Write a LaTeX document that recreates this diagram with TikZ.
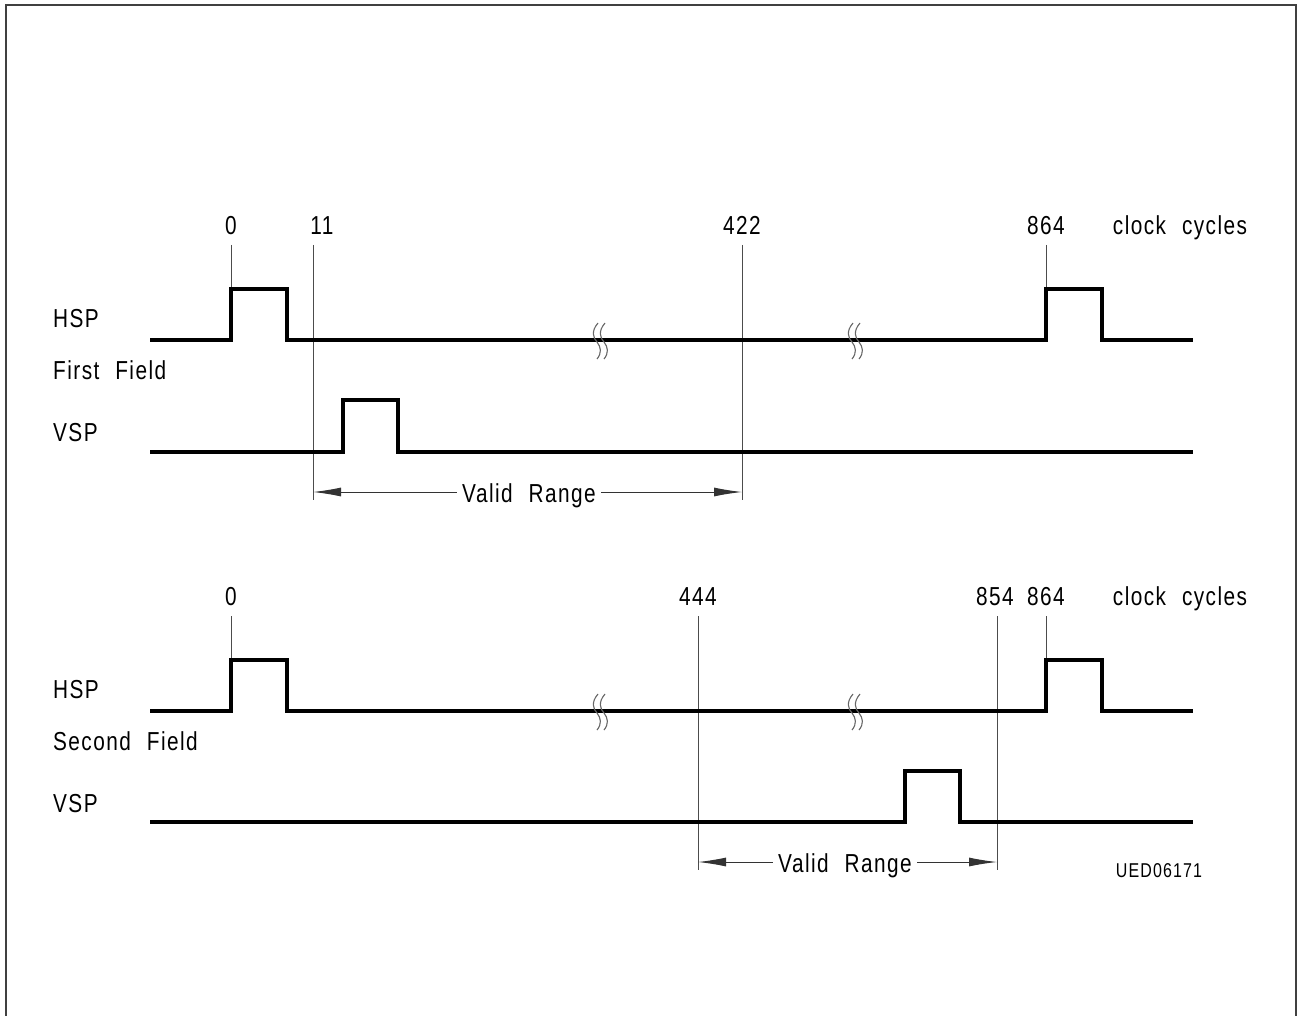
\documentclass[tikz,border=0pt]{standalone}
\usepackage{fontspec}
\setmainfont{Liberation Sans}[WordSpace=2.2, LetterSpace=7]
\usetikzlibrary{arrows.meta}

\begin{document}
\begin{tikzpicture}[x=1pt,y=-1pt,
	sig/.style={line width=3.2pt, line join=miter, black},
	tick/.style={line width=1pt, black!70},
	brk/.style={line width=1.1pt, black!60},
	lbl/.style={anchor=base, inner sep=0pt, font=\fontsize{26}{26}\selectfont, xscale=.8},
	vrange/.style={line width=1pt, black!80, {Latex[length=28pt,width=9pt]}-{Latex[length=28pt,width=9pt]}},
	rangetxt/.style={lbl, fill=white, inner xsep=6pt, inner ysep=4pt}]
	\useasboundingbox (0,0) rectangle (1297,1016);
	%% frame
	\draw[line width=2pt, black!75] (6,1016) -- (6,5) -- (1296,5) -- (1296,1016);

	%% first field
	\node[lbl] (f1c0) at (231,234) {0};
	\node[lbl] (f1c11) at (322,234) {11};
	\node[lbl] (f1c422) at (742,234) {422};
	\node[lbl] (f1c864) at (1046,234) {864};
	\node[lbl] (f1cc) at (1180,234) {clock cycles};
	\node[lbl, anchor=base west] (f1hsp) at (53,327) {HSP};
	\node[lbl, anchor=base west] (f1name) at (53,379) {First Field};
	\node[lbl, anchor=base west] (f1vsp) at (53,441) {VSP};

	\coordinate (f1t0) at (231,289);
	\coordinate (f1t11) at (313,500);
	\coordinate (f1t422) at (742,500);
	\coordinate (f1t864) at (1046,289);
	\coordinate (f1a) at (313,492);
	\coordinate (f1b) at (742,492);

	%% lines
	\draw[tick] (231,245) -- (f1t0);
	\draw[tick] (313,245) -- (f1t11);
	\draw[tick] (742,245) -- (f1t422);
	\draw[tick] (1046,245) -- (f1t864);
	\draw[sig] (150,340) -- (231,340) -- (231,289) -- (287,289) -- (287,340)
		-- (1046,340) -- (1046,289) -- (1102,289) -- (1102,340) -- (1193,340);
	\draw[sig] (150,452) -- (343,452) -- (343,400) -- (398,400) -- (398,452) -- (1193,452);
	\draw[vrange] (f1a) -- (f1b);
	\node[rangetxt] (f1vr) at (529,502) {Valid Range};

	%% second field
	\node[lbl] (f2c0) at (231,605) {0};
	\node[lbl] (f2c444) at (698,605) {444};
	\node[lbl] (f2c854) at (995,605) {854};
	\node[lbl] (f2c864) at (1046,605) {864};
	\node[lbl] (f2cc) at (1180,605) {clock cycles};
	\node[lbl, anchor=base west] (f2hsp) at (53,698) {HSP};
	\node[lbl, anchor=base west] (f2name) at (53,750) {Second Field};
	\node[lbl, anchor=base west] (f2vsp) at (53,812) {VSP};
	\node[lbl, font=\fontsize{20}{20}\selectfont] (code) at (1159,877) {UED06171};

	\coordinate (f2t0) at (231,660);
	\coordinate (f2t444) at (698,870);
	\coordinate (f2t854) at (997,870);
	\coordinate (f2t864) at (1046,660);
	\coordinate (f2a) at (698,862);
	\coordinate (f2b) at (997,862);

	%% lines
	\draw[tick] (231,616) -- (f2t0);
	\draw[tick] (698,616) -- (f2t444);
	\draw[tick] (997,616) -- (f2t854);
	\draw[tick] (1046,616) -- (f2t864);
	\draw[sig] (150,711) -- (231,711) -- (231,660) -- (287,660) -- (287,711)
		-- (1046,711) -- (1046,660) -- (1102,660) -- (1102,711) -- (1193,711);
	\draw[sig] (150,822) -- (905,822) -- (905,771) -- (960,771) -- (960,822) -- (1193,822);
	\draw[vrange] (f2a) -- (f2b);
	\node[rangetxt] (f2vr) at (845,872) {Valid Range};

	%% breaks
	\foreach \bx/\by in {596/340, 851/340, 596/711, 851/711} {
		\draw[brk] (\bx+2,\by-17) .. controls (\bx-5,\by-9) and (\bx-3,\by-2) .. (\bx+1,\by+2)
			.. controls (\bx+5,\by+7) and (\bx+6,\by+13) .. (\bx+1,\by+19);
		\draw[brk] (\bx+9,\by-17) .. controls (\bx+2,\by-9) and (\bx+4,\by-2) .. (\bx+8,\by+2)
			.. controls (\bx+12,\by+7) and (\bx+13,\by+13) .. (\bx+8,\by+19);
	}
\end{tikzpicture}
\end{document}
